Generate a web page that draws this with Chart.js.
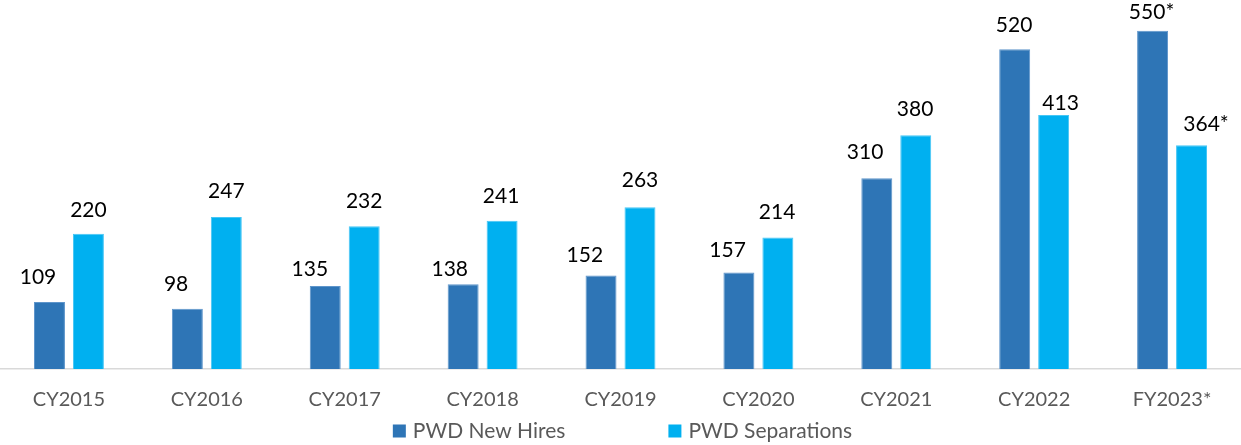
<!DOCTYPE html>
<html>
<head>
<meta charset="utf-8">
<script src="https://cdn.jsdelivr.net/npm/chart.js@4/dist/chart.umd.min.js"></script>
<style>
  html, body { margin: 0; padding: 0; background: #fff; }
  #wrap { width: 1241px; height: 445px; position: relative; }
</style>
</head>
<body>
<div id="wrap"><canvas id="c"></canvas></div>
<script>
const categories = ['CY2015', 'CY2016', 'CY2017', 'CY2018', 'CY2019', 'CY2020', 'CY2021', 'CY2022', 'FY2023*'];
const newHires = [109, 98, 135, 138, 152, 157, 310, 520, 550];
const separations = [220, 247, 232, 241, 263, 214, 380, 413, 364];
const valueSuffix = ['', '', '', '', '', '', '', '', '*'];
const seriesNames = ['PWD New Hires', 'PWD Separations'];

const FONT = 'Lato, "Open Sans", "DejaVu Sans", sans-serif';

const labelPlugin = {
  id: 'barLabels',
  afterDatasetsDraw(chart, args, opts) {
    const ctx = chart.ctx;
    ctx.save();
    ctx.font = opts.fontSize + 'px ' + FONT;
    ctx.fillStyle = '#000';
    ctx.textAlign = 'center';
    ctx.textBaseline = 'alphabetic';
    chart.data.datasets.forEach((ds, di) => {
      const meta = chart.getDatasetMeta(di);
      meta.data.forEach((bar, i) => {
        const shift = opts.shiftX[di][i] || 0;
        const gap = opts.gap[di][i];
        ctx.fillText(String(ds.data[i]) + valueSuffix[i], bar.x + shift, bar.y - gap);
      });
    });
    ctx.restore();
  }
};

const legendPlugin = {
  id: 'customLegend',
  afterDraw(chart, args, opts) {
    const ctx = chart.ctx;
    ctx.save();
    ctx.font = opts.fontSize + 'px ' + FONT;
    ctx.textBaseline = 'middle';
    ctx.textAlign = 'left';
    const items = chart.data.datasets.map(ds => ({ text: ds.label, color: ds.backgroundColor }));
    const widths = items.map(it => opts.box + opts.boxGap + ctx.measureText(it.text).width);
    const total = widths.reduce((a, b) => a + b, 0) + opts.itemGap * (items.length - 1);
    let x = chart.width / 2 - total / 2 + opts.centerShift;
    const y = opts.y;
    items.forEach((it, k) => {
      ctx.fillStyle = it.color;
      ctx.fillRect(x, y - opts.box / 2, opts.box, opts.box);
      ctx.fillStyle = '#595959';
      ctx.fillText(it.text, x + opts.box + opts.boxGap, y);
      x += widths[k] + opts.itemGap;
    });
    ctx.restore();
  }
};

new Chart(document.getElementById('c'), {
  type: 'bar',
  data: {
    labels: categories,
    datasets: [
      {
        label: seriesNames[0],
        data: newHires,
        backgroundColor: '#2E75B6',
        borderColor: '#5E95CB',
        borderWidth: 1,
        categoryPercentage: 0.565,
        barPercentage: 0.795
      },
      {
        label: seriesNames[1],
        data: separations,
        backgroundColor: '#00B0F0',
        borderColor: '#45C6F5',
        borderWidth: 1,
        categoryPercentage: 0.565,
        barPercentage: 0.795
      }
    ]
  },
  options: {
    responsive: true,
    maintainAspectRatio: false,
    animation: false,
    layout: { padding: 0 },
    plugins: {
      legend: { display: false },
      tooltip: { enabled: false },
      barLabels: {
        fontSize: 21,
        shiftX: [
          [-11.5, -11.3, -15.4, -13.4, -16.2, -11.3, -11.7, -0.6, -1],
          [0, 0, 0, -1, 0, -0.8, -0.7, 7, 14.5]
        ],
        gap: [
          [17.7, 17.3, 10, 8, 14, 15.7, 19, 17.7, 11.7],
          [17, 19, 18, 17.7, 20, 18, 19, 5, 13.7]
        ]
      },
      customLegend: { fontSize: 21, box: 13, boxGap: 7, itemGap: 103, y: 431, centerShift: 2 }
    },
    scales: {
      x: {
        grid: { display: false, drawTicks: false },
        border: { display: true, color: '#D9D9D9', width: 1.5 },
        ticks: { color: '#595959', font: { family: FONT, size: 20 }, padding: 19 },
        afterFit(scale) { scale.height = 76; }
      },
      y: {
        display: false,
        min: 0,
        max: 600
      }
    }
  },
  plugins: [labelPlugin, legendPlugin]
});
</script>
</body>
</html>
